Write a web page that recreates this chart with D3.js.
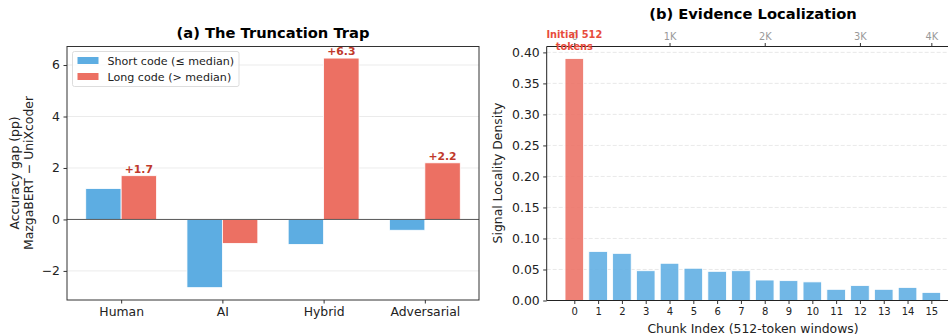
<!DOCTYPE html>
<html>
<head>
<meta charset="utf-8">
<script src="https://cdn.jsdelivr.net/npm/d3@7"></script>
<style>
body { margin:0; background:#fff; }
svg { font-family: "DejaVu Sans", sans-serif; }
</style>
</head>
<body>
<svg id="chart" width="948" height="336"></svg>
<script>
// panel (a) data
var groups = ["Human", "AI", "Hybrid", "Adversarial"];
var shortGap = [1.2, -2.65, -0.97, -0.42];
var longGap = [1.7, -0.93, 6.27, 2.2];
var longLabels = ["+1.7", null, "+6.3", "+2.2"];
var yTicksA = [-2, 0, 2, 4, 6];

// panel (b) data
var chunks = d3.range(16);
var density = [0.39, 0.079, 0.076, 0.048, 0.060, 0.052, 0.047, 0.048, 0.033, 0.032, 0.030, 0.018, 0.024, 0.018, 0.021, 0.013];
var yTicksB = [0, 0.05, 0.10, 0.15, 0.20, 0.25, 0.30, 0.35, 0.40];
var topTickPos = [0, 4, 8, 12, 15];
var topTickLabels = ["0", "1K", "2K", "3K", "4K"];

var blue = "#5dade2", red = "#ec7063";
var svg = d3.select("#chart");

function styleAxis(size, color){
	return function(g){
		g.select(".domain").remove();
		g.selectAll("text").attr("font-size", size).attr("fill", color).attr("font-family", "DejaVu Sans");
		g.selectAll("line").attr("stroke", "#333");
	};
}

// ---------- panel (a) ----------
var A = {l:67, r:479, t:46.5, b:300};
var xa = d3.scaleLinear().domain([-0.535, 3.535]).range([A.l, A.r]);
var ya = d3.scaleLinear().domain([-3.13, 6.72]).range([A.b, A.t]);
var bw = 0.35;
var ga = svg.append("g");

ga.selectAll(".grid").data(yTicksA).enter().append("line")
	.attr("x1", A.l).attr("x2", A.r)
	.attr("y1", function(d){ return ya(d); }).attr("y2", function(d){ return ya(d); })
	.attr("stroke", "#e6e6e6").attr("stroke-width", 0.8);

ga.selectAll(".bs").data(shortGap).enter().append("rect")
	.attr("x", function(d,i){ return xa(i - bw); })
	.attr("width", xa(bw) - xa(0))
	.attr("y", function(d){ return ya(Math.max(0,d)); })
	.attr("height", function(d){ return Math.abs(ya(d) - ya(0)); })
	.attr("fill", blue).attr("stroke", "#fff").attr("stroke-width", 0.8);

ga.selectAll(".bl").data(longGap).enter().append("rect")
	.attr("x", function(d,i){ return xa(i); })
	.attr("width", xa(bw) - xa(0))
	.attr("y", function(d){ return ya(Math.max(0,d)); })
	.attr("height", function(d){ return Math.abs(ya(d) - ya(0)); })
	.attr("fill", red).attr("stroke", "#fff").attr("stroke-width", 0.8);

longGap.forEach(function(d, i){
	if(!longLabels[i]) return;
	ga.append("text")
		.attr("x", xa(i + bw/2))
		.attr("y", ya(d) - 3)
		.attr("text-anchor", "middle").attr("font-size", 10.8).attr("font-weight", "bold")
		.attr("fill", "#c0392b")
		.text(longLabels[i]);
});

ga.append("line").attr("x1", A.l).attr("x2", A.r)
	.attr("y1", ya(0)).attr("y2", ya(0)).attr("stroke", "#333").attr("stroke-width", 0.8);

ga.append("rect").attr("x", A.l).attr("y", A.t).attr("width", A.r - A.l).attr("height", A.b - A.t)
	.attr("fill", "none").attr("stroke", "#333").attr("stroke-width", 1);

var yAxisA = d3.axisLeft(ya).tickValues(yTicksA).tickSize(3.5).tickPadding(3.5)
	.tickFormat(function(d){ return d < 0 ? "\u2212" + Math.abs(d) : d; });
ga.append("g").attr("transform", "translate(" + A.l + ",0)").call(yAxisA).call(styleAxis(12.4, "#222"));

var xAxisA = d3.axisBottom(xa).tickValues([0,1,2,3]).tickSize(3.5).tickPadding(3.5)
	.tickFormat(function(d){ return groups[d]; });
ga.append("g").attr("transform", "translate(0," + A.b + ")").call(xAxisA).call(styleAxis(12.4, "#222"));

ga.append("text").attr("x", 273).attr("y", 38).attr("text-anchor", "middle")
	.attr("font-size", 14.7).attr("font-weight", "bold").text("(a) The Truncation Trap");

ga.append("text").attr("transform", "translate(19,173) rotate(-90)").attr("text-anchor", "middle")
	.attr("font-size", 12.4).attr("fill", "#222").text("Accuracy gap (pp)");
ga.append("text").attr("transform", "translate(33,173) rotate(-90)").attr("text-anchor", "middle")
	.attr("font-size", 12.4).attr("fill", "#222").text("MazgaBERT \u2212 UniXcoder");

// legend
var leg = ga.append("g");
leg.append("rect").attr("x", 72.5).attr("y", 51.5).attr("width", 166.5).attr("height", 35).attr("rx", 2)
	.attr("fill", "#fff").attr("fill-opacity", 0.8).attr("stroke", "#ddd");
[["Short code (\u2264 median)", blue], ["Long code (> median)", red]].forEach(function(e, i){
	leg.append("rect").attr("x", 77.5).attr("y", 57 + i*16).attr("width", 21).attr("height", 7).attr("fill", e[1]);
	leg.append("text").attr("x", 107.5).attr("y", 64.5 + i*16).attr("font-size", 11.1).attr("fill", "#222").text(e[0]);
});

// ---------- panel (b) ----------
var B = {l:546.7, r:958, t:46.5, b:300.5};
var xb = d3.scaleLinear().domain([-1.16, 16.12]).range([B.l, B.r]);
var yb = d3.scaleLinear().domain([0, 0.4095]).range([B.b, B.t]);
var gb = svg.append("g");

gb.selectAll(".grid").data(yTicksB.slice(1)).enter().append("line")
	.attr("x1", B.l).attr("x2", B.r)
	.attr("y1", function(d){ return yb(d); }).attr("y2", function(d){ return yb(d); })
	.attr("stroke", "#e3e3e3").attr("stroke-width", 0.8).attr("stroke-dasharray", "4,2");

var cw = 0.78;
gb.selectAll(".cb").data(density).enter().append("rect")
	.attr("x", function(d,i){ return xb(chunks[i] - cw/2); })
	.attr("width", xb(cw) - xb(0))
	.attr("y", function(d){ return yb(d); })
	.attr("height", function(d){ return yb(0) - yb(d); })
	.attr("fill", function(d,i){ return i === 0 ? red : blue; })
	.attr("fill-opacity", 0.88).attr("stroke", "#fff").attr("stroke-width", 0.8);

gb.append("line").attr("x1", B.l).attr("x2", B.l).attr("y1", B.t).attr("y2", B.b).attr("stroke", "#222");
gb.append("line").attr("x1", B.l).attr("x2", B.r).attr("y1", B.b).attr("y2", B.b).attr("stroke", "#222");
gb.append("line").attr("x1", B.l).attr("x2", B.r).attr("y1", B.t).attr("y2", B.t).attr("stroke", "#222");

var yAxisB = d3.axisLeft(yb).tickValues(yTicksB).tickSize(3.5).tickPadding(3.5).tickFormat(d3.format(".2f"));
gb.append("g").attr("transform", "translate(" + B.l + ",0)").call(yAxisB).call(styleAxis(12.4, "#222"));

var xAxisB = d3.axisBottom(xb).tickValues(chunks).tickSize(3.5).tickPadding(4);
gb.append("g").attr("transform", "translate(0," + B.b + ")").call(xAxisB).call(styleAxis(10, "#222"));

var xTopB = d3.axisTop(xb).tickValues(topTickPos).tickSize(3.5).tickPadding(3)
	.tickFormat(function(d,i){ return topTickLabels[i]; });
gb.append("g").attr("transform", "translate(0," + B.t + ")").call(xTopB).call(styleAxis(9.8, "#999"));

gb.append("text").attr("x", 753).attr("y", 19).attr("text-anchor", "middle")
	.attr("font-size", 14.7).attr("font-weight", "bold").text("(b) Evidence Localization");

gb.append("text").attr("x", 753).attr("y", 333).attr("text-anchor", "middle")
	.attr("font-size", 12.4).attr("fill", "#222").text("Chunk Index (512-token windows)");

gb.append("text").attr("transform", "translate(502,173) rotate(-90)").attr("text-anchor", "middle")
	.attr("font-size", 12.4).attr("fill", "#222").text("Signal Locality Density");

var ann = gb.append("text").attr("text-anchor", "middle").attr("font-size", 9.8).attr("font-weight", "bold").attr("fill", "#e74c3c");
ann.append("tspan").attr("x", xb(0)).attr("y", 38).text("Initial 512");
ann.append("tspan").attr("x", xb(0)).attr("y", 50).text("tokens");
</script>
</body>
</html>
